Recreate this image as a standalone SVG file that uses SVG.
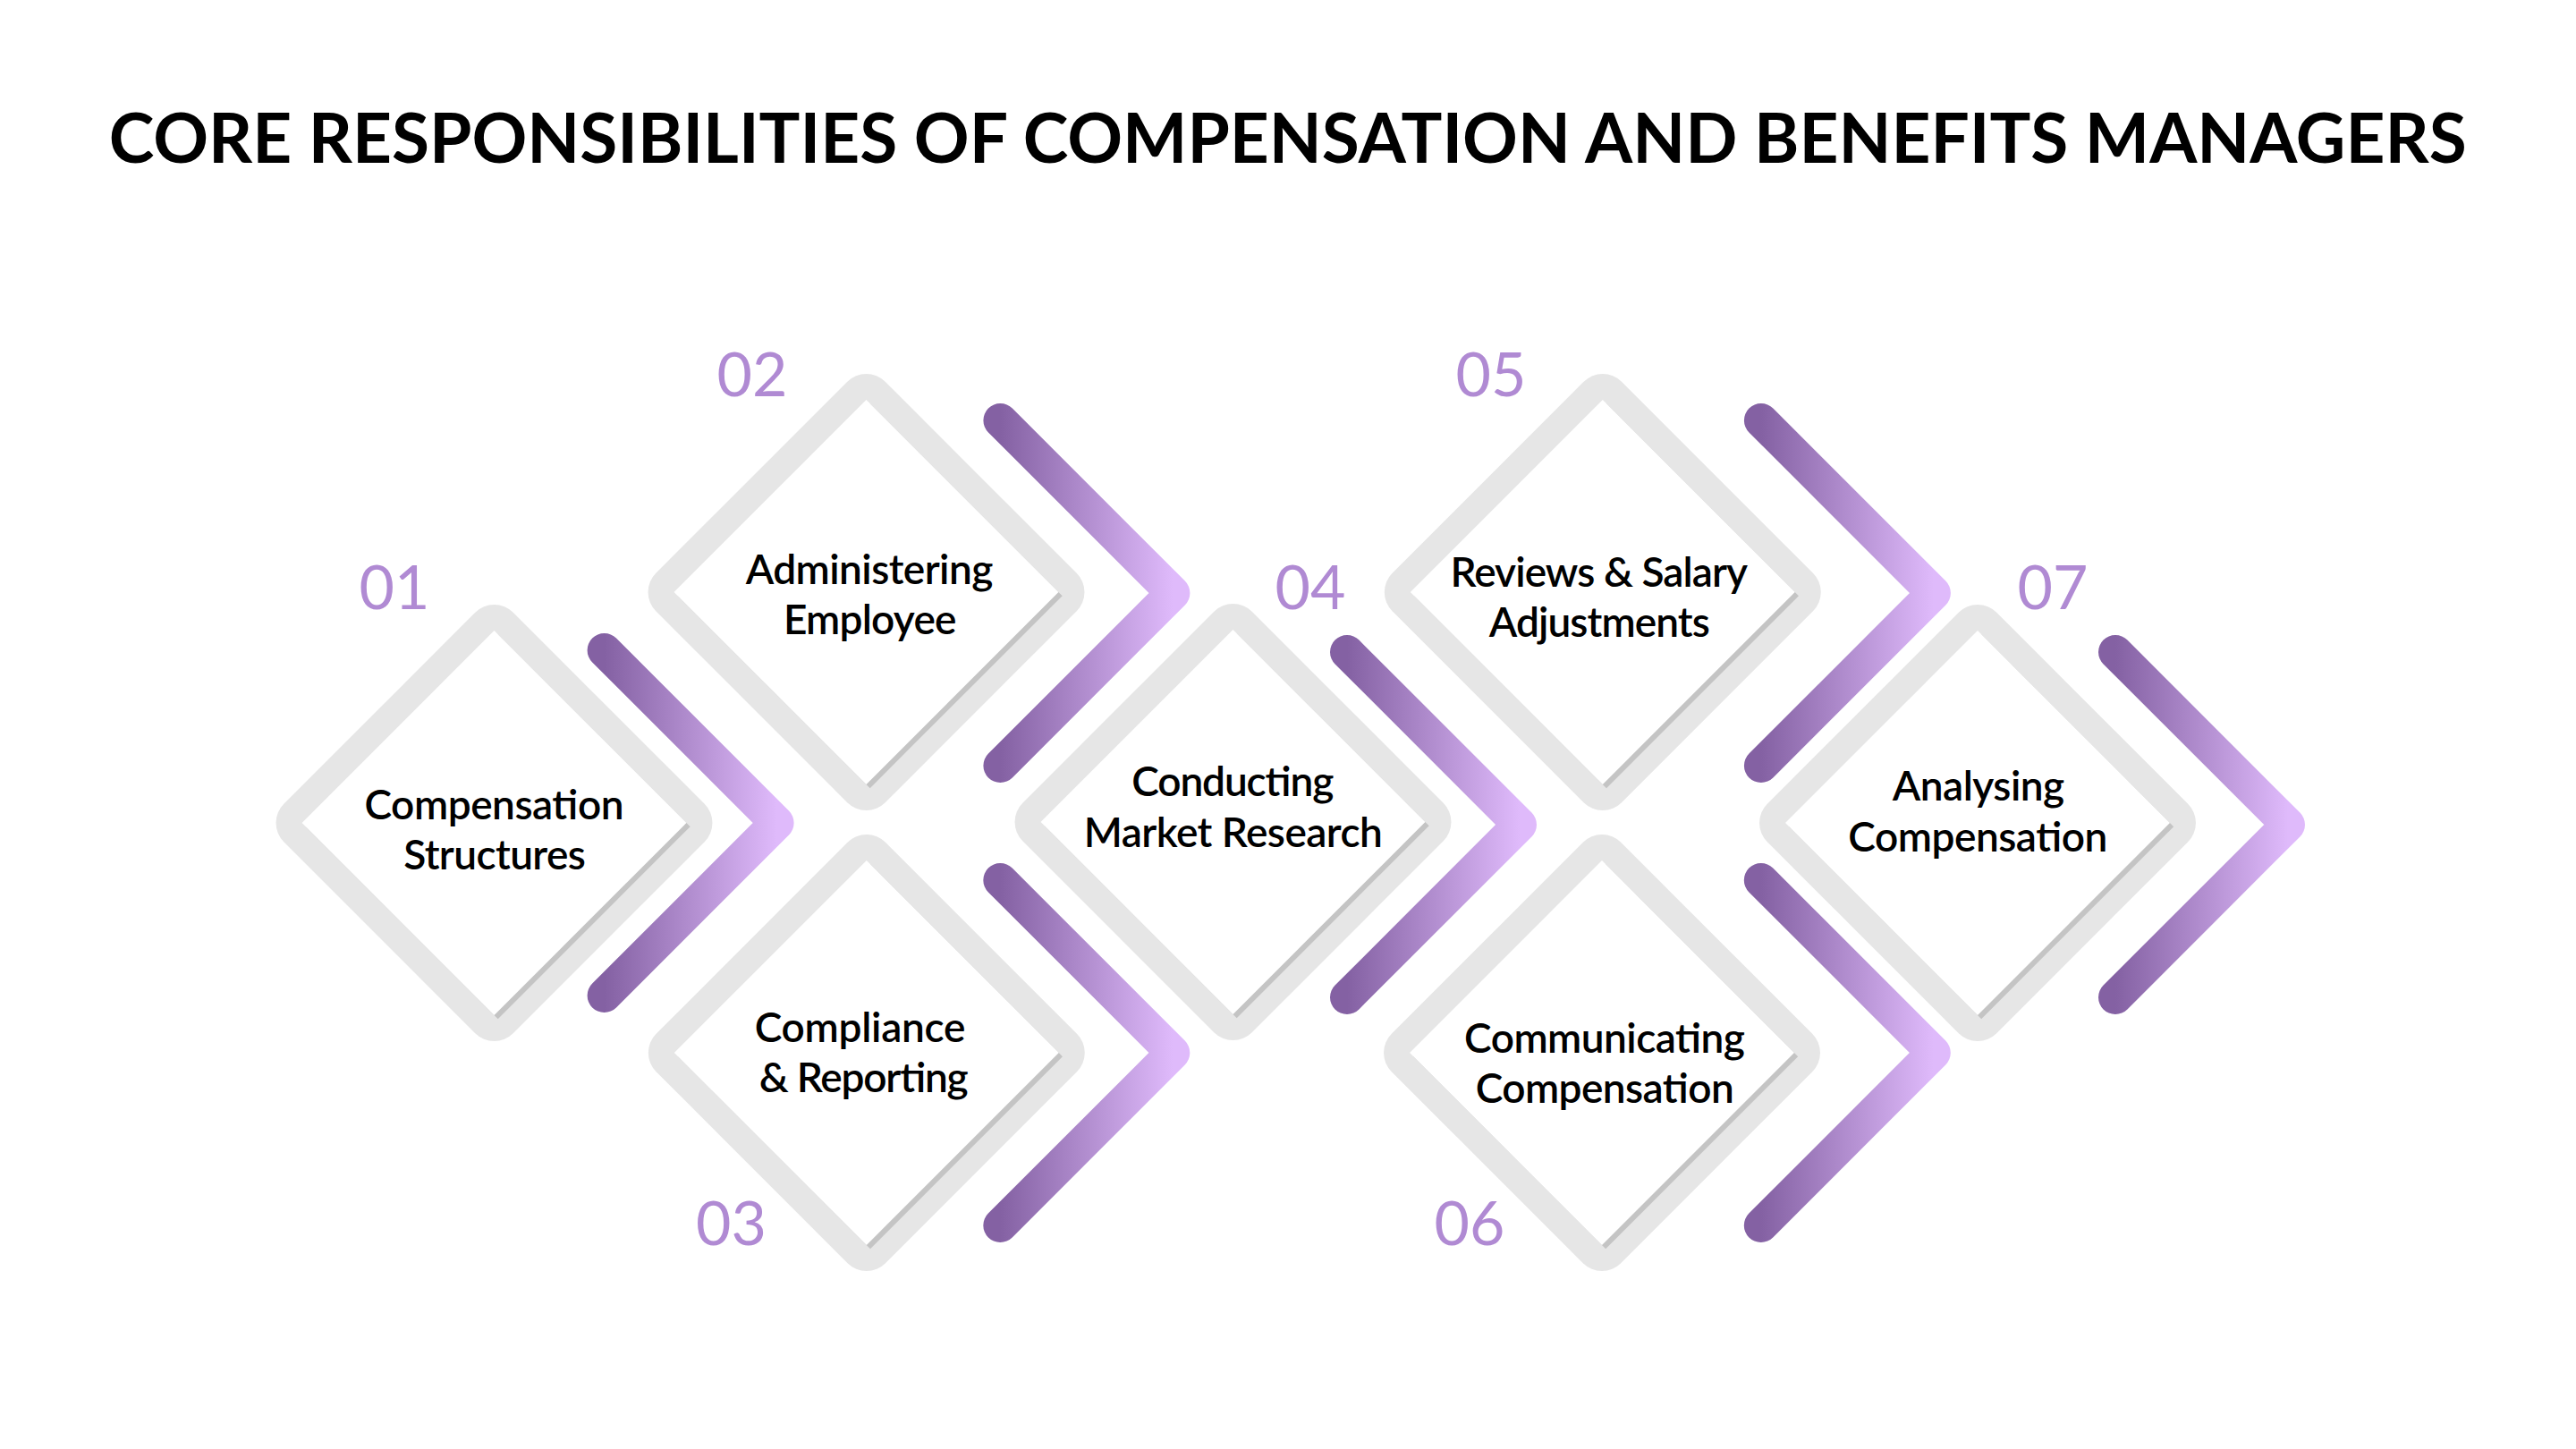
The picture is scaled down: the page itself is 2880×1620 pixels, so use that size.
<svg xmlns="http://www.w3.org/2000/svg" xmlns:xlink="http://www.w3.org/1999/xlink" width="2880" height="1620" viewBox="0 0 2880 1620">
  <style>
    .title { font-family: "Lato", "Liberation Sans", sans-serif; font-weight: 700; font-size: 77px; fill: #000; }
    .lbl { font-family: "Lato", "Liberation Sans", sans-serif; font-weight: 600; font-size: 46px; fill: #000; text-anchor: middle; }
    .num { font-family: "Lato", "Liberation Sans", sans-serif; font-weight: 400; font-size: 68px; fill: #b08ad3; text-anchor: middle; }
    .chev { fill: none; stroke: url(#cg); stroke-width: 38; stroke-linecap: round; stroke-linejoin: round; }
  </style>
  <defs>
    <linearGradient id="cg" x1="0" y1="0" x2="1" y2="0">
      <stop offset="0" stop-color="#8461a3"/>
      <stop offset="1" stop-color="#dfbafb"/>
    </linearGradient>
    <g id="dia">
      <rect x="-181.3" y="-181.3" width="362.6" height="362.6" rx="30" fill="#e6e6e6" transform="rotate(45)"/>
      <rect x="-152" y="-152" width="304" height="304" fill="#c4c4c4" transform="translate(4.2 4.2) rotate(45)"/>
      <rect x="-152" y="-152" width="304" height="304" fill="#ffffff" transform="rotate(45)"/>
    </g>
  </defs>
  <rect width="2880" height="1620" fill="#ffffff"/>

  <text class="title" x="121.7" y="181.7" textLength="2636" lengthAdjust="spacingAndGlyphs">CORE RESPONSIBILITIES OF COMPENSATION AND BENEFITS MANAGERS</text>

  <g id="connectors">
    <path class="chev" d="M675.6,727 L868.6,920 L675.6,1113"/>
    <path class="chev" d="M1118.4,470 L1311.4,663 L1118.4,856"/>
    <path class="chev" d="M1118.3,984 L1311.3,1177 L1118.3,1370"/>
    <path class="chev" d="M1506,729 L1699,922 L1506,1115"/>
    <path class="chev" d="M1968.9,470 L2161.9,663 L1968.9,856"/>
    <path class="chev" d="M1968.8,984 L2161.8,1177 L1968.8,1370"/>
    <path class="chev" d="M2365,729 L2558,922 L2365,1115"/>
  </g>

  <g id="node-01">
    <use xlink:href="#dia" href="#dia" transform="translate(552.5 920)"/>
    <text class="num" x="441" y="680.6">01</text>
    <text class="lbl" x="552.5" y="916.3" textLength="290">Compensation</text>
    <text class="lbl" x="553" y="971.8" textLength="203.6">Structures</text>
  </g>
  <g id="node-02">
    <use xlink:href="#dia" href="#dia" transform="translate(968.5 662)"/>
    <text class="num" x="841" y="442.5">02</text>
    <text class="lbl" x="972" y="652.6" textLength="276.6">Administering</text>
    <text class="lbl" x="972.7" y="709.4" textLength="193.6">Employee</text>
  </g>
  <g id="node-03">
    <use xlink:href="#dia" href="#dia" transform="translate(968.8 1177)"/>
    <text class="num" x="817.5" y="1392.4">03</text>
    <text class="lbl" x="961.6" y="1164.7" textLength="235.7">Compliance</text>
    <text class="lbl" x="965.7" y="1220.5" textLength="234">&amp; Reporting</text>
  </g>
  <g id="node-04">
    <use xlink:href="#dia" href="#dia" transform="translate(1378.5 919)"/>
    <text class="num" x="1465" y="680.6">04</text>
    <text class="lbl" x="1378.3" y="889.8" textLength="226">Conducting</text>
    <text class="lbl" x="1378.8" y="947" textLength="334">Market Research</text>
  </g>
  <g id="node-05">
    <use xlink:href="#dia" href="#dia" transform="translate(1791.8 662)"/>
    <text class="num" x="1667" y="442.9">05</text>
    <text class="lbl" x="1787.7" y="656" textLength="332.6">Reviews &amp; Salary</text>
    <text class="lbl" x="1788.3" y="712" textLength="247">Adjustments</text>
  </g>
  <g id="node-06">
    <use xlink:href="#dia" href="#dia" transform="translate(1791 1177)"/>
    <text class="num" x="1643" y="1392.4">06</text>
    <text class="lbl" x="1794" y="1177.2" textLength="313.8">Communicating</text>
    <text class="lbl" x="1794.2" y="1233" textLength="289">Compensation</text>
  </g>
  <g id="node-07">
    <use xlink:href="#dia" href="#dia" transform="translate(2211 920)"/>
    <text class="num" x="2295" y="680.6">07</text>
    <text class="lbl" x="2212" y="894.9" textLength="192.3">Analysing</text>
    <text class="lbl" x="2211.3" y="952" textLength="290">Compensation</text>
  </g>
</svg>
